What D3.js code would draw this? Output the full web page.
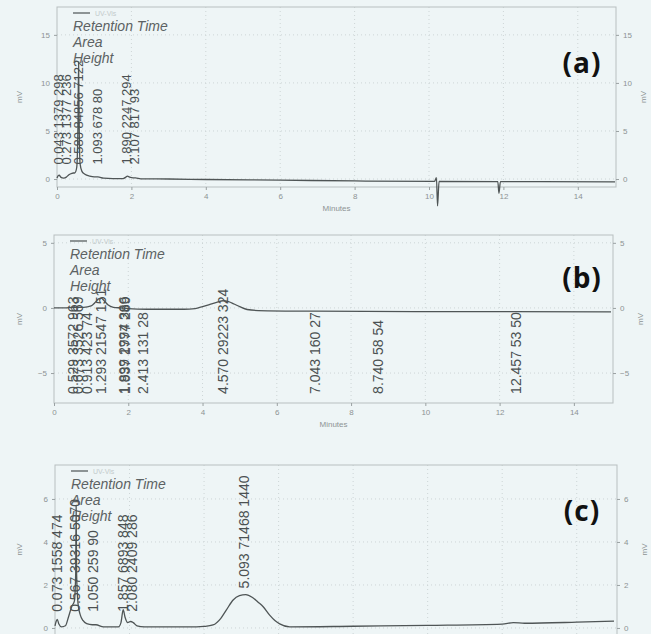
<!DOCTYPE html>
<html>
<head>
<meta charset="utf-8">
<script src="https://cdnjs.cloudflare.com/ajax/libs/d3/7.8.5/d3.min.js"></script>
<style>
  body { margin: 0; background: #eef5f6; }
  svg { display: block; font-family: "Liberation Sans", Arial, sans-serif; }
</style>
</head>
<body>
<svg id="chart" width="651" height="634"></svg>
<script>
// chromatogram traces, [minutes, mV]
let traceA = [[0,0.1],[0.03,0.35],[0.06,0.4],[0.1,0.2],[0.18,0.1],[0.25,0.2],[0.32,0.45],[0.4,0.6],[0.48,0.65],
  [0.53,1.2],[0.565,6],[0.58,12.2],[0.595,6],[0.62,1.6],[0.67,0.8],[0.75,0.5],[0.88,0.3],[1.0,0.22],[1.1,0.22],
  [1.25,0.1],[1.5,0.05],[1.78,0.05],[1.85,0.2],[1.89,0.3],[1.95,0.2],[2.05,0.12],[2.11,0.12],[2.25,0.02],[3,0],
  [4,-0.05],[6,-0.12],[8,-0.2],[10.15,-0.25],[10.2,0.15],[10.23,-2.8],[10.27,-0.25],[11.85,-0.27],[11.88,-1.5],
  [11.92,-0.27],[13,-0.28],[15,-0.3]];

let traceB = [[0,0],[0.3,0],[0.5,0.05],[0.8,0.05],[1.0,0.15],[1.1,0.4],[1.2,0.7],[1.27,0.75],[1.35,0.55],[1.45,0.25],
  [1.6,0.05],[1.8,0],[2.0,-0.05],[2.5,-0.1],[3.5,-0.1],[3.8,-0.05],[4.0,0.1],[4.2,0.28],[4.4,0.45],[4.55,0.55],
  [4.7,0.48],[4.85,0.3],[5.0,0.1],[5.2,-0.12],[5.5,-0.2],[7,-0.25],[10,-0.28],[15,-0.3]];

let traceC = [[0,0.1],[0.03,0.3],[0.06,0.4],[0.1,0.2],[0.18,0.05],[0.28,0.1],[0.36,0.5],[0.45,1.0],[0.52,1.25],
  [0.555,2.5],[0.567,5.7],[0.58,2.5],[0.62,1.1],[0.68,0.6],[0.75,0.35],[0.85,0.2],[1.0,0.15],[1.1,0.15],[1.3,0.05],
  [1.7,0.05],[1.77,0.25],[1.83,0.85],[1.88,0.5],[1.95,0.25],[2.03,0.3],[2.1,0.25],[2.2,0.1],[2.4,0.05],[3.8,0.05],
  [4.0,0.07],[4.24,0.14],[4.45,0.45],[4.6,0.84],[4.78,1.3],[4.95,1.5],[5.12,1.55],[5.3,1.42],[5.45,1.2],[5.58,1.0],
  [5.76,0.6],[5.9,0.35],[6.03,0.19],[6.3,0.05],[8,0.08],[10,0.12],[12,0.18],[12.3,0.25],[12.6,0.22],[14,0.27],[15,0.32]];

// peak annotations: retention time, area, height
let peaksA = ["0.043 1379 298", "0.273 1377 236", "0.580 84856 7122", "1.093 678 80", "1.890 2247 294", "2.107 817 93"];
let peaksB = ["0.529 3572 963", "0.673 3526 569", "0.913 423 74", "1.293 21547 151", "1.899 2994 366",
  "1.937 1777 289", "2.413 131 28", "4.570 29223 324", "7.043 160 27", "8.740 58 54", "12.457 53 50"];
let peaksC = ["0.073 1558 474", "0.567 39316 5070", "1.050 259 90", "1.857 6893 848", "2.080 2409 286", "5.093 71468 1440"];

let xTicks = [0, 2, 4, 6, 8, 10, 12, 14];
let legendLines = ["Retention Time", "Area", "Height"];

let panels = [
  { tag: "(a)", trace: traceA, peaks: peaksA, left: 57, x15: 615, right: 616, top: 7, bottom: 187,
    yDomain: [-0.83, 17.9], yTicks: [0, 5, 10, 15], labelFloor: 1.5, fs: 13, lift: false, tagY: 73 },
  { tag: "(b)", trace: traceB, peaks: peaksB, left: 54, x15: 611, right: 613, top: 235, bottom: 403,
    yDomain: [-7.3, 5.6], yTicks: [-5, 0, 5], labelFloor: -6.6, fs: 14, lift: false, tagY: 288 },
  { tag: "(c)", trace: traceC, peaks: peaksC, left: 55, x15: 614, right: 617, top: 465, bottom: 640,
    yDomain: [-0.56, 7.58], yTicks: [0, 2, 4, 6], labelFloor: 0.75, fs: 14, lift: true, tagY: 521 }
];

let svg = d3.select("#chart");

panels.forEach(p => drawPanel(p));

function drawPanel(p) {
  let g = svg.append("g");
  let x = d3.scaleLinear().domain([0, 15]).range([p.left, p.x15]);
  let y = d3.scaleLinear().domain(p.yDomain).range([p.bottom, p.top]);
  let onPage = p.bottom < 634; // bottom of (c) runs off the scan

  // dotted grid
  g.selectAll(".vg").data(xTicks.slice(1)).enter().append("line")
    .attr("x1", d => x(d)).attr("x2", d => x(d))
    .attr("y1", p.top).attr("y2", p.bottom)
    .attr("stroke", "#cdd5d6").attr("stroke-dasharray", "1,3");
  g.selectAll(".hg").data(p.yTicks).enter().append("line")
    .attr("x1", p.left).attr("x2", p.right)
    .attr("y1", d => y(d)).attr("y2", d => y(d))
    .attr("stroke", "#cdd5d6").attr("stroke-dasharray", "1,3");

  // frame
  g.append("rect")
    .attr("x", p.left).attr("y", p.top)
    .attr("width", p.right - p.left).attr("height", p.bottom - p.top)
    .attr("fill", "none").attr("stroke", "#b8bfc0");

  // axes
  let axes = [];
  axes.push(g.append("g").attr("transform", "translate(" + p.left + ",0)")
    .call(d3.axisLeft(y).tickValues(p.yTicks).tickSize(3).tickPadding(4)));
  axes.push(g.append("g").attr("transform", "translate(" + p.right + ",0)")
    .call(d3.axisRight(y).tickValues(p.yTicks).tickSize(3).tickPadding(4)));
  if (onPage) {
    axes.push(g.append("g").attr("transform", "translate(0," + p.bottom + ")")
      .call(d3.axisBottom(x).tickValues(xTicks).tickSize(3).tickPadding(3)));
    g.append("text")
      .attr("x", (p.left + p.right) / 2).attr("y", p.bottom + 24)
      .attr("text-anchor", "middle").attr("fill", "#8d9394").style("font-size", "8px")
      .text("Minutes");
  }
  axes.forEach(a => {
    a.select(".domain").remove();
    a.selectAll("line").attr("stroke", "#9aa1a2");
    a.selectAll("text").attr("fill", "#8d9394").style("font-size", "8px");
  });

  let midY = (p.top + Math.min(p.bottom, 634)) / 2;
  g.append("text")
    .attr("transform", "translate(22," + midY + ") rotate(-90)")
    .attr("text-anchor", "middle").attr("fill", "#8d9394").style("font-size", "8px")
    .text("mV");
  g.append("text")
    .attr("transform", "translate(" + (p.right + 30) + "," + midY + ") rotate(-90)")
    .attr("text-anchor", "middle").attr("fill", "#8d9394").style("font-size", "8px")
    .text("mV");

  // legend
  g.append("line")
    .attr("x1", p.left + 16).attr("x2", p.left + 33)
    .attr("y1", p.top + 6).attr("y2", p.top + 6)
    .attr("stroke", "#6d7374").attr("stroke-width", 1.5);
  g.append("text")
    .attr("x", p.left + 38).attr("y", p.top + 8.5)
    .attr("fill", "#c3cacb").style("font-size", "7px")
    .text("UV-Vis");
  g.selectAll(".leg").data(legendLines).enter().append("text")
    .attr("x", p.left + 16).attr("y", (d, i) => p.top + 24 + i * 16)
    .attr("fill", "#5c6263").style("font-size", "14px").style("font-style", "italic")
    .text(d => d);

  // trace
  let line = d3.line().x(d => x(d[0])).y(d => y(d[1])).curve(d3.curveMonotoneX);
  g.append("path").datum(p.trace)
    .attr("d", line).attr("fill", "none")
    .attr("stroke", "#4f5556").attr("stroke-width", 1.3);

  // rotated peak labels
  g.selectAll(".pk").data(p.peaks).enter().append("text")
    .attr("transform", d => {
      let parts = d.split(" ");
      let rt = +parts[0], area = +parts[1], h = +parts[2] / 1000;
      let start = p.labelFloor;
      // broad peaks in (c) get their label lifted above the apex
      if (p.lift && area / (h * 1000) > 20) start = Math.max(start, h + 0.4);
      return "translate(" + (x(rt) + 4) + "," + y(start) + ") rotate(-90)";
    })
    .attr("fill", "#4b5152").style("font-size", p.fs + "px")
    .text(d => d);

  // panel tag
  g.append("text")
    .attr("x", 582).attr("y", p.tagY)
    .attr("text-anchor", "middle")
    .style("font-family", "'Open Sans', sans-serif").style("font-weight", 700)
    .style("font-size", "28px").style("letter-spacing", "1px")
    .attr("fill", "#111")
    .text(p.tag);
}
</script>
</body>
</html>
